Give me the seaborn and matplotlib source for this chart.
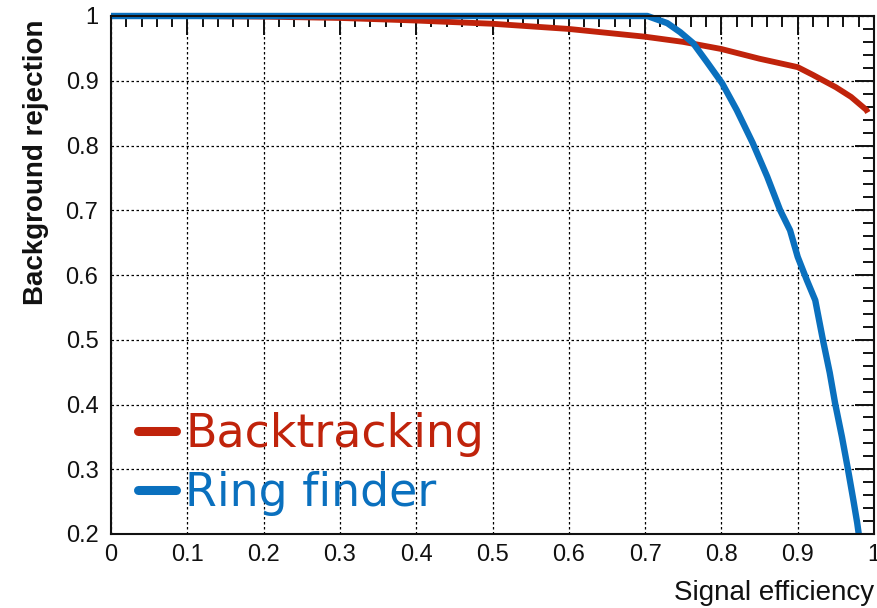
import matplotlib
matplotlib.use("Agg")
import matplotlib.pyplot as plt
import seaborn as sns
import pandas as pd
from matplotlib.ticker import MultipleLocator, FuncFormatter

# --- data ---
bt_eff = [0.0, 0.1, 0.2, 0.3, 0.4, 0.5, 0.6, 0.7, 0.75, 0.8, 0.85, 0.9, 0.92, 0.95, 0.97, 0.99, 0.992]
bt_rej = [1.0, 1.0, 0.999, 0.997, 0.993, 0.988, 0.98, 0.968, 0.96, 0.949, 0.934, 0.921, 0.909, 0.89, 0.875, 0.855, 0.851]

rf_eff = [0.0, 0.703, 0.729, 0.746, 0.763, 0.781, 0.801, 0.820, 0.841, 0.860, 0.877, 0.890,
          0.900, 0.912, 0.923, 0.933, 0.942, 0.949, 0.958, 0.966, 0.973, 0.978, 0.980]
rf_rej = [1.0, 1.0, 0.989, 0.975, 0.958, 0.929, 0.896, 0.855, 0.804, 0.752, 0.700, 0.669,
          0.628, 0.592, 0.561, 0.500, 0.449, 0.402, 0.350, 0.299, 0.252, 0.217, 0.200]

series_names = ["Backtracking", "Ring finder"]
colors = ["#C0230B", "#0A70BE"]
x_ticks = [0, 0.1, 0.2, 0.3, 0.4, 0.5, 0.6, 0.7, 0.8, 0.9, 1.0]
y_ticks = [0.2, 0.3, 0.4, 0.5, 0.6, 0.7, 0.8, 0.9, 1.0]

df = pd.concat([
    pd.DataFrame({"eff": bt_eff, "rej": bt_rej, "method": series_names[0]}),
    pd.DataFrame({"eff": rf_eff, "rej": rf_rej, "method": series_names[1]}),
], ignore_index=True)

sns.set_style("white")
plt.rcParams["font.family"] = ["Liberation Sans", "DejaVu Sans"]

fig = plt.figure(figsize=(8.77, 6.08), dpi=100)
ax = fig.add_axes([111 / 877, 74 / 608, 763 / 877, 518 / 608])

sns.lineplot(data=df, x="eff", y="rej", hue="method", palette=dict(zip(series_names, colors)),
             hue_order=series_names, sort=False, estimator=None, ax=ax, linewidth=4.2,
             legend=True)
for ln in ax.get_lines():
    ln.set_solid_capstyle("butt")
    ln.set_clip_on(False)
ax.get_lines()[1].set_linewidth(4.6)

ax.set_xlim(0, 1)
ax.set_ylim(0.2, 1)
ax.set_xticks(x_ticks)
ax.set_yticks(y_ticks)
ax.xaxis.set_minor_locator(MultipleLocator(0.02))
ax.yaxis.set_minor_locator(MultipleLocator(0.02))
fmt = FuncFormatter(lambda v, p: f"{v:g}")
ax.xaxis.set_major_formatter(fmt)
ax.yaxis.set_major_formatter(fmt)

ax.tick_params(which="both", direction="in", top=True, right=True, colors="#111111",
               labelsize=17, width=1.4)
ax.tick_params(which="major", length=14)
ax.tick_params(which="minor", length=8)
ax.tick_params(axis="x", which="major", pad=7)
ax.tick_params(axis="y", which="major", pad=9)
for lab in ax.get_xticklabels() + ax.get_yticklabels():
    lab.set_color("#111111")

ax.grid(True, which="major", color="black", linestyle=(0, (2, 2)), linewidth=0.9)
ax.set_axisbelow(True)
for sp in ax.spines.values():
    sp.set_linewidth(1.5)
    sp.set_color("#111111")

ax.set_xlabel("Signal efficiency", loc="right", fontsize=20, color="#111111", labelpad=10)
ax.set_ylabel("Background rejection", loc="top", fontsize=20, fontweight="bold",
              color="#111111", labelpad=12)
ax.yaxis.label.set_y(0.993)

leg = ax.legend(loc="lower left", bbox_to_anchor=(0.012, 0.0), frameon=False,
                handlelength=0.82, handletextpad=0.2, labelspacing=0.3,
                borderaxespad=0.0, prop={"family": ["DejaVu Sans"], "size": 33})
for t, c in zip(leg.get_texts(), colors):
    t.set_color(c)
for h in leg.get_lines():
    h.set_linewidth(6.5)
    h.set_solid_capstyle("round")

fig.savefig("out.png", dpi=100)
